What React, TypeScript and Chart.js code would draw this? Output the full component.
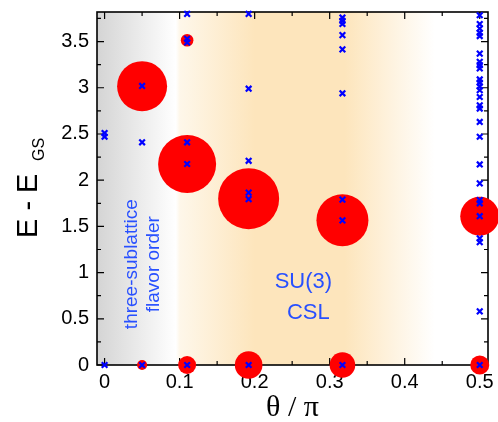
import { useEffect, useRef } from 'react';
import { Chart, registerables } from 'chart.js';

Chart.register(...registerables);

// ---- axis ranges and ticks ----
const X_MIN = -0.0101;
const X_MAX = 0.511;
const Y_MIN = 0;
const Y_MAX = 3.82;

const xTickValues = [0, 0.1, 0.2, 0.3, 0.4, 0.5];
const xMinorTickValues = [0.05, 0.15, 0.25, 0.35, 0.45];
const yTickValues = [0, 0.5, 1, 1.5, 2, 2.5, 3, 3.5];
const yMinorTickValues = [0.25, 0.75, 1.25, 1.75, 2.25, 2.75, 3.25, 3.75];

// ---- spectrum (blue crosses): theta/pi columns and their energy levels ----
const thetaColumns = [0, 0.05, 0.11, 0.192, 0.317, 0.5];
const levelsTheta0 = [0, 2.47, 2.51];
const levelsTheta1 = [0, 2.41, 3.02];
const levelsTheta2 = [0, 2.175, 2.41, 3.49, 3.53, 3.8];
const levelsTheta3 = [0, 1.795, 1.865, 2.21, 2.99, 3.8];
const levelsTheta4 = [0, 1.565, 1.79, 2.94, 3.415, 3.57, 3.69, 3.725, 3.76];
const levelsTheta5 = [
  0, 0.58, 1.33, 1.37, 1.61, 1.75, 1.785, 1.965, 2.17, 2.47, 2.63, 2.775, 2.81, 2.9,
  2.975, 3.015, 3.055, 3.09, 3.21, 3.245, 3.28, 3.37, 3.56, 3.595, 3.64, 3.69, 3.785,
];
const spectrumLevels = [levelsTheta0, levelsTheta1, levelsTheta2, levelsTheta3, levelsTheta4, levelsTheta5];

// ---- weights (red circles): theta, energy, circle radius ----
const weightTheta = [0.05, 0.05, 0.11, 0.11, 0.11, 0.192, 0.192, 0.317, 0.317, 0.5, 0.5];
const weightEnergy = [0, 3.017, 0, 2.175, 3.515, 0, 1.8, 0, 1.567, 0, 1.61];
const weightRadius = [5, 25, 9, 29, 6.3, 13.8, 30.5, 12.8, 26, 9.5, 19.5];

// ---- background shading (theta/pi position, colour) ----
const shadeStops: [number, string][] = [
  [-0.0101, 'rgb(212,212,212)'],
  [0.095, 'rgb(255,255,255)'],
  [0.1, 'rgb(254,247,234)'],
  [0.2, 'rgb(253,229,188)'],
  [0.32, 'rgb(253,229,188)'],
  [0.44, 'rgb(255,255,255)'],
  [0.511, 'rgb(255,255,255)'],
];

const ANNOT_COLOR = '#2850ff';

const zeroPadding = (s: any) => {
  s.paddingLeft = 0;
  s.paddingRight = 0;
  s.paddingTop = 0;
  s.paddingBottom = 0;
};

const decorPlugin = {
  id: 'decor',
  beforeDatasetsDraw(chart: any) {
    const { ctx, chartArea: a, scales } = chart;
    const xs = scales.x;
    const ys = scales.y;
    ctx.save();
    // background gradient
    const g = ctx.createLinearGradient(a.left, 0, a.right, 0);
    shadeStops.forEach(([v, c]) => {
      const f = (xs.getPixelForValue(v) - a.left) / (a.right - a.left);
      g.addColorStop(Math.min(1, Math.max(0, f)), c);
    });
    ctx.fillStyle = g;
    ctx.fillRect(a.left, a.top, a.right - a.left, a.bottom - a.top);

    // annotations
    ctx.fillStyle = ANNOT_COLOR;
    ctx.textBaseline = 'alphabetic';
    ctx.textAlign = 'center';
    ctx.font = '19px "Liberation Sans", Arial, sans-serif';
    const cy = ys.getPixelForValue(1.091);
    [
      ['three-sublattice', 0.0431],
      ['flavor order', 0.0719],
    ].forEach(([t, xv]) => {
      ctx.save();
      ctx.translate(xs.getPixelForValue(xv as number), cy);
      ctx.rotate(-Math.PI / 2);
      ctx.fillText(t as string, 0, 0);
      ctx.restore();
    });
    ctx.font = '22px "Liberation Sans", Arial, sans-serif';
    ctx.fillText('SU(3)', xs.getPixelForValue(0.265), ys.getPixelForValue(0.828));
    ctx.fillText('CSL', xs.getPixelForValue(0.2716), ys.getPixelForValue(0.503));

    // inward ticks on all four sides
    ctx.strokeStyle = '#000';
    ctx.lineWidth = 1.2;
    ctx.beginPath();
    const xt = (vals: number[], len: number) =>
      vals.forEach((v) => {
        const p = xs.getPixelForValue(v);
        ctx.moveTo(p, a.bottom);
        ctx.lineTo(p, a.bottom - len);
        ctx.moveTo(p, a.top);
        ctx.lineTo(p, a.top + len);
      });
    const yt = (vals: number[], len: number) =>
      vals.forEach((v) => {
        const p = ys.getPixelForValue(v);
        ctx.moveTo(a.left, p);
        ctx.lineTo(a.left + len, p);
        ctx.moveTo(a.right, p);
        ctx.lineTo(a.right - len, p);
      });
    xt(xTickValues, 7);
    xt(xMinorTickValues, 4);
    yt(yTickValues, 7);
    yt(yMinorTickValues, 4);
    ctx.stroke();

    // frame
    ctx.lineWidth = 1.6;
    ctx.strokeRect(a.left, a.top, a.right - a.left, a.bottom - a.top);
    ctx.restore();
  },
  afterDraw(chart: any) {
    const { ctx, chartArea: a } = chart;
    ctx.save();
    ctx.fillStyle = '#000';
    ctx.textBaseline = 'alphabetic';
    // x title
    ctx.textAlign = 'center';
    ctx.font = '30px "Liberation Serif", "Times New Roman", serif';
    ctx.fillText('θ / π', (a.left + a.right) / 2, 416);
    // y title with subscript
    ctx.textAlign = 'left';
    ctx.translate(37, 238);
    ctx.rotate(-Math.PI / 2);
    ctx.font = '29px "Liberation Sans", Arial, sans-serif';
    ctx.fillText('E - E', 0, 0);
    ctx.font = '16px "Liberation Sans", Arial, sans-serif';
    ctx.fillText('GS', 77, 7);
    ctx.restore();
  },
};

export default function App() {
  const ref = useRef<HTMLCanvasElement>(null);
  useEffect(() => {
    const crossPoints: { x: number; y: number }[] = [];
    thetaColumns.forEach((t, i) => spectrumLevels[i].forEach((e) => crossPoints.push({ x: t, y: e })));
    const bubbles = weightTheta.map((t, i) => ({ x: t, y: weightEnergy[i], r: weightRadius[i] }));

    const tickFont = { family: '"Liberation Sans", Arial, sans-serif', size: 20 };
    const chart = new Chart(ref.current as HTMLCanvasElement, {
      type: 'scatter',
      data: {
        datasets: [
          {
            type: 'scatter',
            data: crossPoints,
            pointStyle: 'crossRot',
            pointRadius: 4,
            pointBorderWidth: 2.2,
            borderColor: '#0000ff',
            backgroundColor: '#0000ff',
            clip: false,
            order: 0,
          } as any,
          {
            type: 'bubble',
            data: bubbles,
            backgroundColor: '#ff0000',
            borderWidth: 0,
            clip: false,
            order: 1,
          } as any,
        ],
      },
      options: {
        animation: false,
        responsive: false,
        events: [],
        layout: { autoPadding: false, padding: { left: 0, right: 10, top: 12, bottom: 0 } },
        plugins: { legend: { display: false }, tooltip: { enabled: false } },
        scales: {
          x: {
            type: 'linear',
            min: X_MIN,
            max: X_MAX,
            grid: { display: false, drawTicks: false },
            border: { display: false },
            afterBuildTicks: (s: any) => {
              s.ticks = xTickValues.map((v) => ({ value: v }));
            },
            afterFit: (s: any) => {
              s.height = 57;
              zeroPadding(s);
            },
            ticks: {
              font: tickFont,
              color: '#000',
              padding: 5,
              maxRotation: 0,
              autoSkip: false,
              callback: (v: any) => String(v),
            },
          },
          y: {
            type: 'linear',
            min: Y_MIN,
            max: Y_MAX,
            grid: { display: false, drawTicks: false },
            border: { display: false },
            afterBuildTicks: (s: any) => {
              s.ticks = yTickValues.map((v) => ({ value: v }));
            },
            afterFit: (s: any) => {
              s.width = 97;
              zeroPadding(s);
            },
            ticks: {
              font: tickFont,
              color: '#000',
              padding: 8,
              autoSkip: false,
              callback: (v: any) => String(v),
            },
          },
        },
      },
      plugins: [decorPlugin],
    } as any);
    return () => chart.destroy();
  }, []);
  return (
    <div style={{ position: 'absolute', left: 0, top: 0, width: 498, height: 422 }}>
      <canvas ref={ref} width={498} height={422} style={{ display: 'block' }} />
    </div>
  );
}
